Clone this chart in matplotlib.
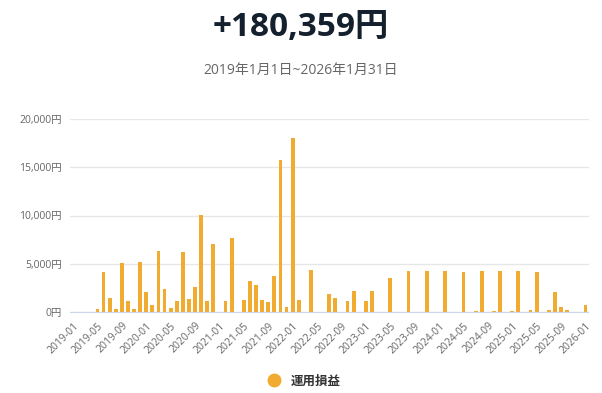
import matplotlib
matplotlib.use("Agg")
from matplotlib import pyplot as plt
from matplotlib.lines import Line2D

plt.rcParams['font.family'] = ['Open Sans', 'Noto Sans CJK JP', 'DejaVu Sans']

# monthly profit (yen), 2019-01 .. 2026-01
months = ["%d-%02d" % (2019 + m // 12, m % 12 + 1) for m in range(85)]
profit = [
    0, 0, 0, 0, 300, 4150, 1450, 300, 5100, 1150, 300, 5200,
    2100, 700, 6300, 2400, 400, 1100, 6200, 1350, 2600, 10100, 1150, 7050,
    0, 1150, 7700, 0, 1250, 3200, 2800, 1250, 1050, 3750, 15750, 500,
    18050, 1250, 0, 4350, 0, 0, 1850, 1450, 0, 1150, 2200, 0,
    1150, 2200, 0, 0, 3500, 0, 0, 4250, 0, 0, 4250, 0,
    0, 4250, 0, 0, 4150, 0, 100, 4250, 0, 100, 4250, 0,
    80, 4250, 0, 200, 4150, 0, 200, 2100, 500, 200, 0, 0,
    750,
]
total_label = "+180,359円"
period_label = "2019年1月1日~2026年1月31日"
series_name = "運用損益"
bar_color = "#f2ab31"

fig = plt.figure(figsize=(6.02, 3.93), dpi=100)
ax = fig.add_axes([70 / 602, 81 / 393, 518.5 / 602, 193 / 393])

x = list(range(len(months)))
ax.bar(x, profit, width=0.62, color=bar_color, zorder=3)

ax.set_xlim(-0.5, len(months) - 0.5)
ax.set_ylim(0, 20000)
yt = [0, 5000, 10000, 15000, 20000]
ax.set_yticks(yt)
ax.set_yticklabels(["{:,}円".format(v) for v in yt], fontsize=7.5, color="#666666")
ax.grid(axis='y', color="#e6e6e6", linewidth=0.9, zorder=0)
ax.set_xticks(x[::4])
ax.set_xticklabels(months[::4], rotation=45, ha='right', va='top',
                   rotation_mode='anchor', fontsize=7.5, color="#666666")
ax.tick_params(axis='both', length=0)
ax.tick_params(axis='x', pad=6)
ax.tick_params(axis='y', pad=6)
for s in ['top', 'right', 'left']:
    ax.spines[s].set_visible(False)
ax.spines['bottom'].set_color("#ccd6eb")
ax.spines['bottom'].set_zorder(4)

fig.text(0.5, 1 - 27 / 393, total_label, ha='center', va='center',
         fontsize=24, fontweight='bold', color="#14202e")
fig.text(0.5, 1 - 70 / 393, period_label, ha='center', va='center',
         fontsize=10, color="#666666")

handle = Line2D([], [], marker='o', linestyle='none', markersize=9,
                color=bar_color)
fig.legend([handle], [series_name], loc='center', bbox_to_anchor=(0.5, 1 - 381 / 393),
           frameon=False, handletextpad=0.3,
           prop={'size': 9, 'weight': 'bold'}, labelcolor="#333333")

fig.savefig("out.png", dpi=100)
